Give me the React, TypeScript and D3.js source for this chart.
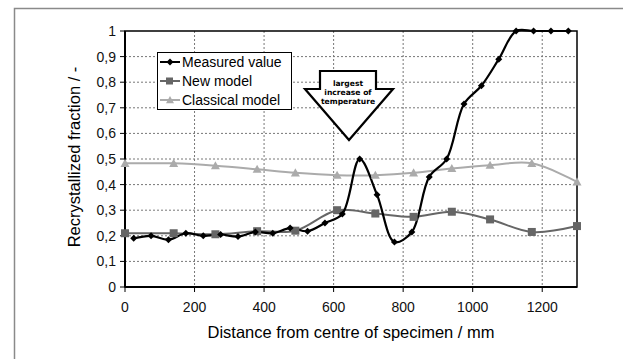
import * as d3 from 'd3'

// measured recrystallized fraction along the specimen
const measuredX = [25, 75, 125, 175, 225, 275, 325, 375, 425, 475, 525, 575, 625, 675, 725, 775, 825, 875, 925, 975, 1025, 1075, 1125, 1175, 1225, 1275]
const measuredY = [0.19, 0.2, 0.185, 0.21, 0.2, 0.205, 0.197, 0.215, 0.21, 0.23, 0.218, 0.25, 0.285, 0.5, 0.36, 0.176, 0.215, 0.43, 0.5, 0.715, 0.786, 0.89, 1, 1, 1, 1]

// model predictions share the same positions
const modelX = [0, 140, 260, 380, 490, 610, 720, 830, 940, 1050, 1170, 1300]
const newModelY = [0.21, 0.21, 0.206, 0.218, 0.22, 0.3, 0.287, 0.274, 0.294, 0.264, 0.215, 0.238]
const classicalY = [0.483, 0.483, 0.474, 0.46, 0.446, 0.437, 0.437, 0.446, 0.463, 0.476, 0.483, 0.411]

const xTicks = [0, 200, 400, 600, 800, 1000, 1200]
const yTicks = [0, 0.1, 0.2, 0.3, 0.4, 0.5, 0.6, 0.7, 0.8, 0.9, 1]
const legendLabels = ['Measured value', 'New model', 'Classical model']
const arrowText = ['largest', 'increase of', 'temperature']

const W = 623
const H = 359
const plot = { left: 125, right: 577, top: 31, bottom: 287 }
const font = 'Arial, "Liberation Sans", sans-serif'

const colors = { measured: '#000000', newModel: '#666666', classical: '#ababab' }

export default function App() {
  const x = d3.scaleLinear().domain([0, 1300]).range([plot.left, plot.right])
  const y = d3.scaleLinear().domain([0, 1]).range([plot.bottom, plot.top])

  const line = d3
    .line<[number, number]>()
    .x((d) => x(d[0]))
    .y((d) => y(d[1]))
    .curve(d3.curveCatmullRom.alpha(0.5))

  const measured = measuredX.map((v, i) => [v, measuredY[i]] as [number, number])
  const newModel = modelX.map((v, i) => [v, newModelY[i]] as [number, number])
  const classical = modelX.map((v, i) => [v, classicalY[i]] as [number, number])

  const diamond = (cx: number, cy: number, r: number) =>
    `M${cx},${cy - r}L${cx + r},${cy}L${cx},${cy + r}L${cx - r},${cy}Z`
  const triangle = (cx: number, cy: number, r: number) =>
    `M${cx},${cy - r}L${cx + r},${cy + r * 0.8}L${cx - r},${cy + r * 0.8}Z`

  // block arrow annotation
  const arrow = 'M320,71L376,71L376,89L393,89L349,140L305,89L320,89Z'

  const legend = { x: 157, y: 52, w: 134, h: 57 }
  const legendRows = [62, 81, 100]

  return (
    <svg
      width={W}
      height={H}
      style={{ position: 'absolute', left: 0, top: 0, background: '#fff' }}
      fontFamily={font}
    >
      <rect x={0} y={0} width={W} height={H} fill="#fff" />
      <rect x={14.5} y={8.5} width={W + 10} height={H + 10} fill="none" stroke="#8a8a8a" strokeWidth={1.5} />

      {/* gridlines */}
      {yTicks.slice(1, -1).map((t) => (
        <line key={'gy' + t} x1={plot.left} x2={plot.right} y1={y(t)} y2={y(t)} stroke="#777" strokeWidth={1} strokeDasharray="2,2" />
      ))}
      {xTicks.slice(1).map((t) => (
        <line key={'gx' + t} x1={x(t)} x2={x(t)} y1={plot.top} y2={plot.bottom} stroke="#777" strokeWidth={1} strokeDasharray="2,2" />
      ))}

      {/* plot border */}
      <rect x={plot.left} y={plot.top} width={plot.right - plot.left} height={plot.bottom - plot.top} fill="none" stroke="#000" strokeWidth={1.5} />
      <line x1={plot.left} x2={plot.left} y1={plot.top} y2={plot.bottom} stroke="#000" strokeWidth={2} />
      <line x1={plot.left} x2={plot.right} y1={plot.bottom} y2={plot.bottom} stroke="#000" strokeWidth={2} />

      {/* ticks and labels */}
      {yTicks.map((t) => (
        <g key={'ty' + t}>
          <line x1={plot.left - 5} x2={plot.left} y1={y(t)} y2={y(t)} stroke="#000" strokeWidth={1} />
          <text x={plot.left - 9} y={y(t)} dy="0.35em" textAnchor="end" fontSize={14} fill="#111">
            {String(t).replace('.', ',')}
          </text>
        </g>
      ))}
      {xTicks.map((t) => (
        <g key={'tx' + t}>
          <line x1={x(t)} x2={x(t)} y1={plot.bottom} y2={plot.bottom + 5} stroke="#000" strokeWidth={1} />
          <text x={x(t)} y={312} textAnchor="middle" fontSize={14} fill="#111">
            {t}
          </text>
        </g>
      ))}

      <text x={351} y={338} textAnchor="middle" fontSize={16.5} fill="#000">
        Distance from centre of specimen / mm
      </text>
      <text transform="translate(80,157) rotate(-90)" textAnchor="middle" fontSize={16.5} fill="#000">
        Recrystallized fraction / -
      </text>

      {/* series */}
      <path d={line(classical) || ''} fill="none" stroke={colors.classical} strokeWidth={2} />
      <path d={line(newModel) || ''} fill="none" stroke={colors.newModel} strokeWidth={2} />
      <path d={line(measured) || ''} fill="none" stroke={colors.measured} strokeWidth={2.2} />

      {classical.map((d, i) => (
        <path key={'c' + i} d={triangle(x(d[0]), y(d[1]), 4.5)} fill={colors.classical} />
      ))}
      {newModel.map((d, i) => (
        <rect key={'n' + i} x={x(d[0]) - 4} y={y(d[1]) - 4} width={8} height={8} fill={colors.newModel} />
      ))}
      {measured.map((d, i) => (
        <path key={'m' + i} d={diamond(x(d[0]), y(d[1]), 3.5)} fill={colors.measured} />
      ))}

      {/* legend */}
      <rect x={legend.x + 0.5} y={legend.y + 0.5} width={legend.w} height={legend.h} fill="#fff" stroke="#000" strokeWidth={1} />
      {legendLabels.map((label, i) => {
        const cy = legendRows[i]
        const c = [colors.measured, colors.newModel, colors.classical][i]
        return (
          <g key={label}>
            <line x1={160} x2={180} y1={cy} y2={cy} stroke={c} strokeWidth={2} />
            {i === 0 && <path d={diamond(170, cy, 3.5)} fill={c} />}
            {i === 1 && <rect x={166} y={cy - 3.5} width={7} height={7} fill={c} />}
            {i === 2 && <path d={triangle(170, cy, 4)} fill={c} />}
            <text x={182} y={cy} dy="0.36em" fontSize={14} fill="#000">
              {label}
            </text>
          </g>
        )
      })}

      {/* annotation arrow */}
      <path d={arrow} fill="#fff" stroke="#000" strokeWidth={2.2} strokeLinejoin="miter" />
      {arrowText.map((s, i) => (
        <text key={s} x={348} y={86 + i * 9} textAnchor="middle" fontSize={7.6} fontWeight="bold" fontFamily='"DejaVu Sans", Verdana, sans-serif' fill="#000">
          {s}
        </text>
      ))}
    </svg>
  )
}
